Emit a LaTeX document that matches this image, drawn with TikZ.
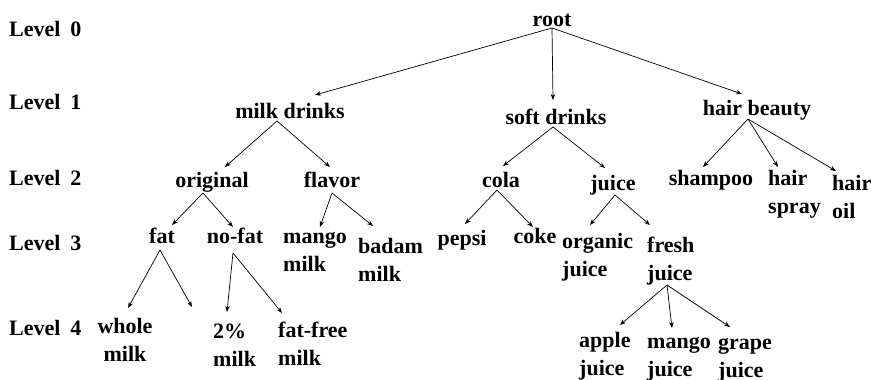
\documentclass[tikz,border=0pt]{standalone}
\usepackage{fontspec}
\setmainfont{Liberation Serif}
\usetikzlibrary{arrows.meta}
\tikzset{
  lbl/.style={font=\fontsize{22}{28.5}\selectfont\bfseries, inner sep=0pt, anchor=base},
  ml/.style={lbl, align=left, anchor=base west},
  lev/.style={lbl, anchor=base west},
  arr/.style={draw=black, line width=0.7pt, -{Stealth[length=6pt,width=4.5pt]}},
}
\begin{document}
\begin{tikzpicture}[x=1pt,y=-1pt]
\path[fill=white] (0,0) rectangle (871,380);
\useasboundingbox (0,0) rectangle (871,380);
% level labels
\node[lev] (L0) at (9,36) {Level\hspace{0.45em}0};
\node[lev] (L1) at (9,109) {Level\hspace{0.45em}1};
\node[lev] (L2) at (9,185) {Level\hspace{0.45em}2};
\node[lev] (L3) at (9,250) {Level\hspace{0.45em}3};
\node[lev] (L4) at (9,335) {Level\hspace{0.45em}4};
% level 0,1
\node[lbl] (root) at (552,27) {root};
\node[lbl] (md) at (290,118) {milk drinks};
\node[lbl] (sd) at (556,124) {soft drinks};
\node[lbl] (hb) at (757,115) {hair beauty};
% level 2
\node[lbl] (orig) at (212,187) {original};
\node[lbl] (flav) at (332,187) {flavor};
\node[lbl] (cola) at (501,187) {cola};
\node[lbl] (juice) at (613,190) {juice};
\node[lbl] (sham) at (711,185) {shampoo};
\node[ml] (hs) at (768,213.5) {hair\\spray};
\node[ml] (hoil) at (832,218.5) {hair\\oil};
% level 3
\node[lbl] (fat) at (162,243) {fat};
\node[lbl] (nofat) at (235,243) {no-fat};
\node[ml] (mm) at (283,271.5) {mango\\milk};
\node[ml] (bm) at (358,281.5) {badam\\milk};
\node[lbl] (pepsi) at (462,245) {pepsi};
\node[lbl] (coke) at (535,243) {coke};
\node[ml] (oj) at (562,276.5) {organic\\juice};
\node[ml] (fj) at (647,280.5) {fresh\\juice};
% level 4
\node[lbl, align=center] (wm) at (125,361.5) {whole\\milk};
\coordinate (empty) at (192,307);
\node[ml] (pm) at (213,366.5) {2\%\\milk};
\node[ml] (ff) at (278,365.5) {fat-free\\milk};
\node[ml] (aj) at (579,375.5) {apple\\juice};
\node[ml] (mj) at (647,376.5) {mango\\juice};
\node[ml] (gj) at (718,377.5) {grape\\juice};
% connectors
\draw[arr] ([shift={(0,1)}]root.base) -- ([shift={(25,-23)}]md.base);
\draw[arr] ([shift={(0,1)}]root.base) -- ([shift={(-3,-24)}]sd.base);
\draw[arr] ([shift={(0,1)}]root.base) -- ([shift={(-15,-21)}]hb.base);
\draw[arr] ([shift={(-13,3)}]md.base) -- ([shift={(13,-20)}]orig.base);
\draw[arr] ([shift={(-13,3)}]md.base) -- ([shift={(-2,-20)}]flav.base);
\draw[arr] ([shift={(-3,3)}]sd.base) -- ([shift={(2,-21)}]cola.base);
\draw[arr] ([shift={(-3,3)}]sd.base) -- ([shift={(-8,-22)}]juice.base);
\draw[arr] ([shift={(-9,4)}]hb.base) -- ([shift={(-8,-18)}]sham.base);
\draw[arr] ([shift={(-9,4)}]hb.base) -- ([shift={(10,-46.5)}]hs.base west);
\draw[arr] ([shift={(-9,4)}]hb.base) -- ([shift={(4,-47.5)}]hoil.base west);
\draw[arr] ([shift={(-9,6)}]orig.base) -- ([shift={(10,-18)}]fat.base);
\draw[arr] ([shift={(-9,6)}]orig.base) -- ([shift={(-2,-16)}]nofat.base);
\draw[arr] ([shift={(0,6)}]flav.base) -- ([shift={(37,-44.5)}]mm.base west);
\draw[arr] ([shift={(0,6)}]flav.base) -- ([shift={(15,-55.5)}]bm.base west);
\draw[arr] ([shift={(-4,3)}]cola.base) -- ([shift={(3,-21)}]pepsi.base);
\draw[arr] ([shift={(-4,3)}]cola.base) -- ([shift={(-2,-16)}]coke.base);
\draw[arr] ([shift={(2,5)}]juice.base) -- ([shift={(28,-51.5)}]oj.base west);
\draw[arr] ([shift={(2,5)}]juice.base) -- ([shift={(3,-55.5)}]fj.base west);
\draw[arr] ([shift={(-2,7)}]fat.base) -- ([shift={(3,-53.5)}]wm.base);
\draw[arr] ([shift={(-2,7)}]fat.base) -- (empty);
\draw[arr] ([shift={(-2,10)}]nofat.base) -- ([shift={(14,-54.5)}]pm.base west);
\draw[arr] ([shift={(-2,10)}]nofat.base) -- ([shift={(4,-52.5)}]ff.base west);
\draw[arr] ([shift={(20,4.5)}]fj.base west) -- ([shift={(41,-50.5)}]aj.base west);
\draw[arr] ([shift={(20,4.5)}]fj.base west) -- ([shift={(25,-48.5)}]mj.base west);
\draw[arr] ([shift={(20,4.5)}]fj.base west) -- ([shift={(12,-50.5)}]gj.base west);
\end{tikzpicture}
\end{document}
